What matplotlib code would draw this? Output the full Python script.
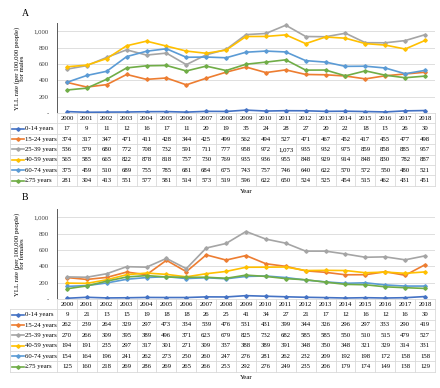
import matplotlib.pyplot as plt
import matplotlib.ticker as mtick
from matplotlib.lines import Line2D

years = list(range(2000, 2019))
groups = ['0-14 years', '15-24 years', '25-39 years', '40-59 years', '60-74 years', '\u226575 years']
colors = ['#4472C4', '#ED7D31', '#A5A5A5', '#FFC000', '#5B9BD5', '#70AD47']

# males (panel A)
m_0_14 = [17, 9, 11, 12, 16, 17, 11, 20, 19, 35, 24, 28, 27, 20, 22, 18, 13, 26, 30]
m_15_24 = [374, 317, 347, 471, 411, 428, 344, 425, 499, 562, 494, 527, 471, 467, 452, 417, 455, 477, 498]
m_25_39 = [536, 579, 680, 772, 708, 732, 591, 711, 777, 958, 972, 1073, 935, 932, 975, 859, 858, 885, 957]
m_40_59 = [565, 585, 665, 822, 878, 818, 757, 730, 769, 935, 936, 955, 848, 929, 914, 848, 830, 782, 887]
m_60_74 = [375, 459, 510, 689, 755, 785, 681, 684, 675, 743, 757, 746, 640, 622, 570, 572, 550, 480, 521]
m_75 = [281, 304, 413, 551, 577, 581, 514, 573, 519, 596, 622, 650, 524, 525, 454, 515, 462, 431, 451]

# females (panel B)
f_0_14 = [9, 21, 13, 15, 19, 18, 18, 26, 25, 41, 34, 27, 21, 17, 12, 16, 12, 16, 30]
f_15_24 = [262, 239, 264, 329, 297, 473, 334, 539, 476, 531, 431, 399, 344, 326, 296, 297, 333, 290, 419]
f_25_39 = [270, 266, 309, 395, 389, 496, 371, 623, 679, 825, 732, 682, 585, 585, 550, 510, 515, 479, 527]
f_40_59 = [194, 191, 235, 297, 317, 301, 271, 309, 337, 388, 389, 391, 348, 350, 348, 321, 329, 314, 331]
f_60_74 = [154, 164, 196, 241, 262, 273, 250, 260, 247, 276, 281, 262, 232, 209, 192, 198, 172, 158, 158]
f_75 = [125, 160, 218, 269, 286, 269, 265, 266, 253, 292, 276, 249, 235, 206, 179, 174, 149, 138, 129]

male = [m_0_14, m_15_24, m_25_39, m_40_59, m_60_74, m_75]
female = [f_0_14, f_15_24, f_25_39, f_40_59, f_60_74, f_75]

plt.rcParams['font.family'] = ['Liberation Serif', 'DejaVu Serif']

W, H = 440, 388
fig = plt.figure(figsize=(W / 100, H / 100), dpi=100)
fs = 4.9


def rect(left, top, right, bottom):
    return [left / W, 1 - bottom / H, (right - left) / W, (bottom - top) / H]


def fmt_y(v, pos):
    if v == 0:
        return '-'
    return '{:,.0f}'.format(v)


def panel(letter, data, ylab, top, zero_y, row_h, text_y):
    x_left, x_right = 57, 435
    ax = fig.add_axes(rect(x_left, top, x_right, zero_y))
    for vals, c in zip(data, colors):
        ax.plot(range(len(years)), vals, color=c, lw=1.2, marker='D', ms=1.8, zorder=3)
    ax.set_xlim(-0.5, len(years) - 0.5)
    ax.set_ylim(0, 1100)
    ax.yaxis.set_major_locator(mtick.MultipleLocator(200))
    ax.yaxis.set_major_formatter(mtick.FuncFormatter(fmt_y))
    ax.grid(axis='y', color='#d9d9d9', lw=0.6)
    ax.set_axisbelow(True)
    ax.set_xticks([])
    for s in ['top', 'right', 'bottom']:
        ax.spines[s].set_visible(False)
    ax.spines['left'].set_color('#595959')
    ax.spines['left'].set_linewidth(0.7)
    ax.tick_params(axis='y', length=0, pad=6, labelsize=fs, colors='#404040')
    ax.set_ylabel(ylab, fontsize=fs, labelpad=6, linespacing=1.1)
    fig.text(25 / W, 1 - text_y / H, letter, fontsize=7, ha='center', va='center')

    # data table below the plot
    n = len(years)
    tab = fig.add_axes(rect(x_left, zero_y, x_right, zero_y + 7 * row_h))
    tab.set_xlim(-0.5, n - 0.5)
    tab.set_ylim(7, 0)
    tab.axis('off')
    lab_left = -0.5 - (x_left - 10) / ((x_right - x_left) / n)
    gc = '#d9d9d9'
    for r in range(8):
        x0 = -0.5 if r == 0 else lab_left
        tab.plot([x0, n - 0.5], [r, r], color=gc, lw=0.6, clip_on=False)
    for c in range(n + 1):
        tab.plot([c - 0.5, c - 0.5], [0, 7], color=gc, lw=0.6, clip_on=False)
    tab.plot([lab_left, lab_left], [1, 7], color=gc, lw=0.6, clip_on=False)
    for i, y in enumerate(years):
        tab.text(i, 0.5, str(y), ha='center', va='center', fontsize=fs)
    for r, (g, vals, c) in enumerate(zip(groups, data, colors)):
        yy = r + 1.5
        tab.add_line(Line2D([lab_left + 0.08, lab_left + 0.72], [yy, yy], color=c, lw=1.2,
                            clip_on=False))
        tab.plot([lab_left + 0.4], [yy], marker='D', ms=1.8, color=c, clip_on=False)
        tab.text(lab_left + 0.76, yy, g, ha='left', va='center', fontsize=fs)
        for i, v in enumerate(vals):
            tab.text(i, yy, '{:,}'.format(v), ha='center', va='center', fontsize=fs)
    fig.text(((x_left + x_right) / 2) / W, 1 - (zero_y + 7 * row_h + 6) / H, 'Year',
             ha='center', va='center', fontsize=fs)


panel('A', male, 'YLL rate (per 100,000 people)\nfor males', 23, 113, 10.4, 13)
panel('B', female, 'YLL rate (per 100,000 people)\nfor females', 209, 299, 10.4, 197)

fig.savefig('out.png', dpi=100)
